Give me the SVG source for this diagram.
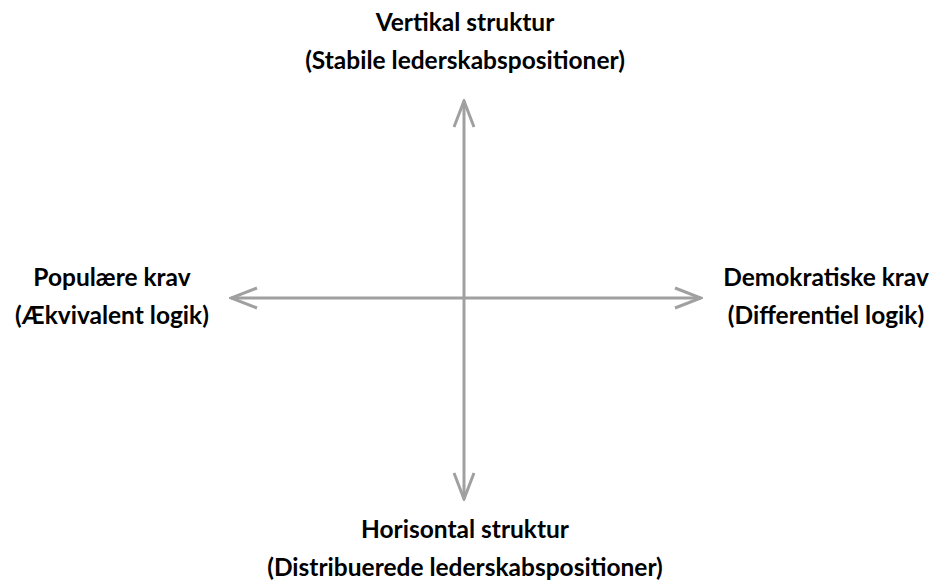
<svg xmlns="http://www.w3.org/2000/svg" width="930" height="583" viewBox="0 0 930 583">
<style>
.t{font-family:Lato,"Open Sans","Liberation Sans",sans-serif;font-weight:bold;font-size:24.5px;fill:#000;text-anchor:middle}
.ax{stroke:#a0a0a0;stroke-width:3;fill:none}
</style>
<defs>
<marker id="ah" viewBox="0 0 30 24" refX="28" refY="12" markerWidth="30" markerHeight="24" markerUnits="userSpaceOnUse" orient="auto">
<path d="M2,2 L28,12 L2,22" fill="none" stroke="#a0a0a0" stroke-width="3"/>
</marker>
</defs>
<rect width="930" height="583" fill="#fff"/>
<g id="connectors">
<line class="ax" x1="464" y1="298" x2="464" y2="101" marker-end="url(#ah)"/>
<line class="ax" x1="464" y1="298" x2="464" y2="499" marker-end="url(#ah)"/>
<line class="ax" x1="464" y1="298" x2="231" y2="298" marker-end="url(#ah)"/>
<line class="ax" x1="464" y1="298" x2="701" y2="298" marker-end="url(#ah)"/>
</g>
<g id="top">
<text class="t" x="465" y="31">Vertikal struktur</text>
<text class="t" x="465" y="69">(Stabile lederskabspositioner)</text>
</g>
<g id="left">
<text class="t" x="112" y="286">Populære krav</text>
<text class="t" x="112" y="324">(Ækvivalent logik)</text>
</g>
<g id="right">
<text class="t" x="826" y="286">Demokratiske krav</text>
<text class="t" x="826" y="324">(Differentiel logik)</text>
</g>
<g id="bottom">
<text class="t" x="465" y="538">Horisontal struktur</text>
<text class="t" x="465" y="576">(Distribuerede lederskabspositioner)</text>
</g>
</svg>
